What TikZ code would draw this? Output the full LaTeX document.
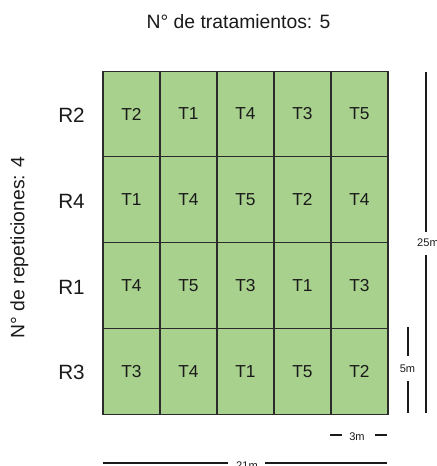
\documentclass[tikz,border=0pt]{standalone}
\usepackage{fontspec}
\setmainfont{Liberation Sans}
\definecolor{cellgreen}{HTML}{A9D18E}
\definecolor{gridline}{HTML}{2B2B2B}
\definecolor{txt}{HTML}{1A1A1A}
\begin{document}
\begin{tikzpicture}[x=0.75pt,y=-0.75pt,
  cell/.style={draw=gridline,line width=0.8pt,fill=cellgreen,minimum width=42.75pt,minimum height=64.3pt,inner sep=0pt,font=\fontsize{13}{15}\selectfont,text=txt},
  rowlab/.style={font=\fontsize{15.5}{18}\selectfont,text=txt},
  bigtitle/.style={font=\fontsize{14.5}{17}\selectfont,text=txt},
  dimtxt/.style={font=\fontsize{8.3}{10}\selectfont,text=txt,inner sep=0pt},
  dimline/.style={line width=1.1pt,draw=txt}]
\useasboundingbox (0,0) rectangle (436,466);
\node[bigtitle] (title) at (238.5,22) {N° de tratamientos: 5};
\node[bigtitle,rotate=90] (reps) at (19.5,247.5) {N° de repeticiones: 4};
% rows
\foreach \r/\lab/\a/\b/\c/\d/\e [count=\i from 0] in {R2/T2/T1/T4/T3/T5, R4/T1/T4/T5/T2/T4, R1/T4/T5/T3/T1/T3, R3/T3/T4/T1/T5/T2}{
  \pgfmathsetmacro{\yc}{114+85.75*\i}
  \node[rowlab] (lab\i) at (71.5,\yc+1.5) {\r};
  \foreach \t [count=\j from 0] in {\lab,\a,\b,\c,\d}{
    \node[cell] (c\i\j) at (131.5+57*\j,\yc) {\t};
  }
}
% 25m
\coordinate (a25) at (426,72);
\coordinate (a25e) at (426,232);
\coordinate (b25s) at (426,255);
\coordinate (b25) at (426,413);
\node[dimtxt] (t25) at (428,243) {25m};
\draw[dimline] (a25) -- (a25e);
\draw[dimline] (b25s) -- (b25);
% 5m
\coordinate (a5) at (408,327);
\coordinate (a5e) at (408,356);
\coordinate (b5s) at (408,381);
\coordinate (b5) at (408,413);
\node[dimtxt] (t5) at (407.5,369) {5m};
\draw[dimline] (a5) -- (a5e);
\draw[dimline] (b5s) -- (b5);
% 3m
\coordinate (a3) at (330,435);
\coordinate (a3e) at (342,435);
\coordinate (b3s) at (375,435);
\coordinate (b3) at (387,435);
\node[dimtxt] (t3) at (357,436.5) {3m};
\draw[dimline] (a3) -- (a3e);
\draw[dimline] (b3s) -- (b3);
% 21m
\coordinate (a21) at (103,463);
\coordinate (a21e) at (228,463);
\coordinate (b21s) at (265,463);
\coordinate (b21) at (387,463);
\node[dimtxt] (t21) at (247,466) {21m};
\draw[dimline] (a21) -- (a21e);
\draw[dimline] (b21s) -- (b21);
\end{tikzpicture}
\end{document}
